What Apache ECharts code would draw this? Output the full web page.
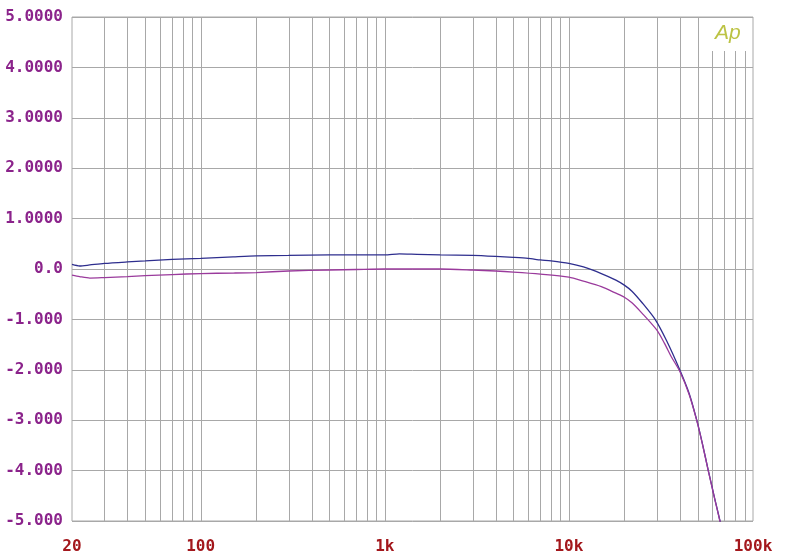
<!DOCTYPE html>
<html>
<head>
<meta charset="utf-8">
<script src="https://cdn.jsdelivr.net/npm/echarts@6/dist/echarts.min.js"></script>
<style>
html,body{margin:0;padding:0;background:#fff;}
#chart{width:800px;height:560px;}
</style>
</head>
<body>
<div id="chart"></div>
<script>
// ---- data ----
const blueFreq = [20,22,25,30,40,50,70,100,150,200,300,500,700,1000,1200,1500,2000,3000,4000,5000,6000,7000,8000,10000,12000,15000,18000,20000,22000,25000,29400,34000,40000,45000,49500,53000,57200,62000,66200,70000];
const blueVal  = [0.09,0.06,0.08,0.11,0.14,0.16,0.19,0.21,0.24,0.26,0.27,0.28,0.28,0.28,0.30,0.29,0.28,0.27,0.25,0.23,0.21,0.18,0.16,0.11,0.04,-0.09,-0.22,-0.32,-0.44,-0.67,-1.00,-1.43,-2.00,-2.47,-3.00,-3.45,-4.00,-4.56,-5.00,-5.40];
const purpleFreq = [20,22,25,30,40,50,70,100,150,200,300,500,700,1000,2000,3000,4000,5000,7000,10000,12000,15000,18000,20000,22000,25000,30000,33000,36000,40000,45000,49500,53000,57200,62000,66200,70000];
const purpleVal  = [-0.12,-0.15,-0.18,-0.17,-0.15,-0.13,-0.11,-0.09,-0.08,-0.07,-0.04,-0.02,-0.01,0.0,0.0,-0.02,-0.04,-0.06,-0.10,-0.16,-0.24,-0.35,-0.48,-0.56,-0.67,-0.88,-1.21,-1.47,-1.74,-2.03,-2.49,-3.01,-3.46,-4.01,-4.57,-5.01,-5.41];
const xTickFreqs = [20,100,1000,10000,100000];
const xTickLabels = ['20','100','1k','10k','100k'];
const yTickValues = [-5,-4,-3,-2,-1,0,1,2,3,4,5];
const yTickLabels = ['-5.000','-4.000','-3.000','-2.000','-1.000','0.0','1.0000','2.0000','3.0000','4.0000','5.0000'];
const gridFreqs = [30,40,50,60,70,80,90,100,200,300,400,500,600,700,800,900,1000,2000,3000,4000,5000,6000,7000,8000,9000,10000,20000,30000,40000,50000,60000,70000,80000,90000];
const F_MIN = 20, F_MAX = 100000, Y_MIN = -5, Y_MAX = 5;

const lg = Math.log10;
const near = (a,b) => Math.abs(a-b) < 1e-6;

const chart = echarts.init(document.getElementById('chart'), null, {renderer:'canvas'});
const FONT = '"DejaVu Sans Mono", monospace';
chart.setOption({
  animation:false,
  backgroundColor:'#fff',
  grid:{left:72, right:47, top:17, bottom:39, show:true, borderColor:'#a8a8a8', borderWidth:1},
  xAxis:{
    type:'value', min:lg(F_MIN), max:lg(F_MAX),
    axisLine:{show:false}, axisTick:{show:false}, splitLine:{show:false},
    axisLabel:{
      customValues: xTickFreqs.map(f=>lg(f)),
      formatter:(v)=>{ for(let i=0;i<xTickFreqs.length;i++){ if(near(lg(xTickFreqs[i]),v)) return xTickLabels[i]; } return ''; },
      color:'#a3171c', fontFamily:FONT, fontWeight:'bold', fontSize:16, margin:18,
      showMinLabel:true, showMaxLabel:true
    }
  },
  yAxis:{
    type:'value', min:Y_MIN, max:Y_MAX, interval:1,
    axisLine:{show:false}, axisTick:{show:false},
    splitLine:{show:true, lineStyle:{color:'#a8a8a8', width:1}},
    axisLabel:{
      formatter:(v)=>{ const i = yTickValues.findIndex(t=>near(t,v)); return i>=0 ? yTickLabels[i] : ''; },
      color:'#8b238b', fontFamily:FONT, fontWeight:'bold', fontSize:16, margin:9
    }
  },
  graphic:[
    {type:'rect', z:2, shape:{x:705, y:18, width:47, height:33}, style:{fill:'#fff'}, silent:true},
    {type:'text', z:4, x:715, y:23, style:{text:'Ap', fill:'#bcc344', font:'italic 21px "Liberation Sans", sans-serif'}, silent:true}
  ],
  series:[
    {
      type:'custom', z:1, silent:true,
      encode:{x:0, y:1},
      data: gridFreqs.map(f=>[lg(f), 0]),
      renderItem:(params, api)=>{
        const x = api.value(0);
        const a = api.coord([x, Y_MIN]);
        const b = api.coord([x, Y_MAX]);
        const px = Math.round(a[0]) + 0.5;
        return {type:'line', shape:{x1:px, y1:a[1], x2:px, y2:b[1]}, style:{stroke:'#a8a8a8', lineWidth:1}};
      }
    },
    {
      type:'line', z:3, showSymbol:false, smooth:0.25, clip:true,
      data: blueFreq.map((f,i)=>[lg(f), blueVal[i]]),
      lineStyle:{color:'#2e2e8e', width:1.3}
    },
    {
      type:'line', z:3, showSymbol:false, smooth:0.25, clip:true,
      data: purpleFreq.map((f,i)=>[lg(f), purpleVal[i]]),
      lineStyle:{color:'#9a3a9c', width:1.3}
    }
  ]
});
</script>
</body>
</html>
